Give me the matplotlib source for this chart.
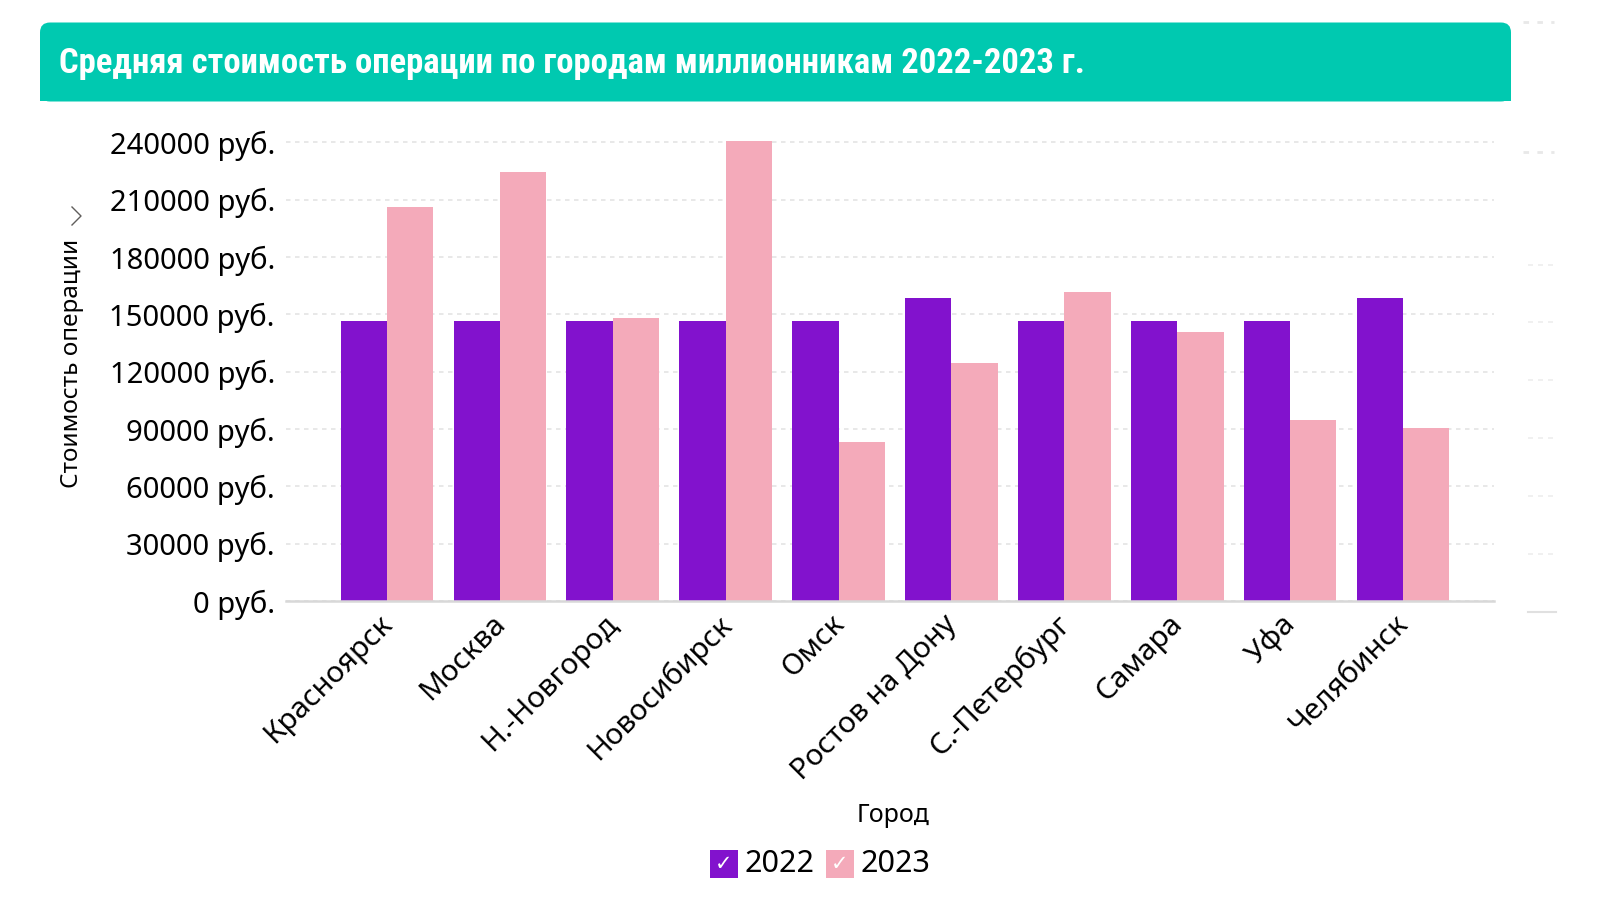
import matplotlib
matplotlib.use("Agg")
import matplotlib.pyplot as plt
from matplotlib import font_manager
from matplotlib.patches import FancyBboxPatch, Rectangle
from matplotlib.lines import Line2D
from matplotlib.transforms import ScaledTranslation
import numpy as np

# data
cities = ['Красноярск', 'Москва', 'Н.-Новгород', 'Новосибирск', 'Омск',
          'Ростов на Дону', 'С.-Петербург', 'Самара', 'Уфа', 'Челябинск']
cost_2022 = [146300, 146300, 146300, 146300, 146300, 158500, 146300, 146300, 146300, 158500]
cost_2023 = [206200, 224500, 148300, 240700, 83000, 124500, 161500, 140800, 94500, 90500]
years = ['2022', '2023']
yticks = list(range(0, 240001, 30000))

colors = ['#8212CD', '#F4AABA']
teal = '#00C9B0'

W, H = 1608, 902


def pick(*names):
    avail = {f.name for f in font_manager.fontManager.ttflist}
    for n in names:
        if n in avail:
            return n
    return 'DejaVu Sans'


ui_font = pick('Noto Sans', 'Open Sans', 'DejaVu Sans')
title_font = pick('Roboto Condensed', 'Lato', 'Roboto', 'DejaVu Sans')
plt.rcParams['font.family'] = [ui_font, 'DejaVu Sans']


def fx(px):
    return px / W


def fy(py):
    return 1 - py / H


fig = plt.figure(figsize=(W / 100, H / 100), dpi=100)
fig.patch.set_facecolor('white')

# title banner (rounded top corners only), drawn in inches
banner = FancyBboxPatch((0.40, (H - 101.5) / 100), 14.71, 0.79,
                        boxstyle='round,pad=0,rounding_size=0.1',
                        transform=fig.dpi_scale_trans, facecolor=teal, edgecolor='none')
fig.add_artist(banner)
fig.add_artist(Rectangle((0.40, (H - 101.5) / 100), 14.71, 0.4,
                         transform=fig.dpi_scale_trans, facecolor=teal, edgecolor='none'))
title = fig.text(fx(58.7), fy(73.5), 'Средняя стоимость операции по городам миллионникам 2022-2023 г.',
                 color='white', fontsize=23, fontweight='bold', family=title_font,
                 ha='left', va='baseline')
fig.canvas.draw()
tw = title.get_window_extent().width
title.set_fontsize(23 * 1029 / tw)

ax = fig.add_axes([fx(286), fy(601), 1208 / W, (601 - 136.6) / H])
x = np.arange(len(cities))
bw = 0.41
ax.bar(x - bw / 2, cost_2022, bw, color=colors[0], zorder=2)
ax.bar(x + bw / 2, cost_2023, bw, color=colors[1], zorder=2)
ax.set_xlim(-0.894, 9.805)
ax.set_ylim(0, 243000)

ax.set_yticks(yticks)
ax.set_yticklabels([f'{v} руб.' for v in yticks], fontsize=21, color='black')
ax.tick_params(axis='y', length=0, pad=8)
ax.yaxis.grid(True, color='#e4e4e4', lw=1.2, dashes=(2.7, 2.7))
ax.set_axisbelow(True)

ax.set_xticks(x)
ax.set_xticklabels(cities, rotation=45, ha='right', va='top', rotation_mode='anchor',
                   fontsize=21.3, color='black')
ax.tick_params(axis='x', length=0, pad=6)
shift = ScaledTranslation(-0.09, 0, fig.dpi_scale_trans)
for lbl in ax.get_xticklabels():
    lbl.set_transform(lbl.get_transform() + shift)

for s in ['top', 'right', 'left']:
    ax.spines[s].set_visible(False)
ax.spines['bottom'].set_color('#d8d8d8')
ax.spines['bottom'].set_linewidth(1.8)

# axis titles
fig.text(fx(72), fy(363.5), 'Стоимость операции', rotation=90, ha='center', va='center',
         fontsize=17.5, color='black')
fig.add_artist(Line2D([fx(72), fx(81), fx(72)], [fy(207), fy(216), fy(225)],
                      transform=fig.transFigure, color='#605E5C', lw=1))
fig.text(fx(893.5), fy(815), 'Город', ha='center', va='center', fontsize=18, color='black')

# legend with check boxes
for px, col, lab in zip([710, 826], colors, years):
    fig.add_artist(Rectangle((fx(px), fy(878)), 28 / W, 28 / H, transform=fig.transFigure,
                             facecolor=col, edgecolor='none'))
    fig.text(fx(px + 14), fy(864), '✓', ha='center', va='center', color='white',
             fontsize=15, family='DejaVu Sans')
    fig.text(fx(px + 35), fy(864), lab, ha='left', va='center', fontsize=22, color='black')

# faint remnants of a neighbouring visual on the right edge
for py in [265, 322, 380, 438, 496, 554]:
    fig.add_artist(Line2D([fx(1528), fx(1556)], [fy(py), fy(py)], transform=fig.transFigure,
                          color='#eeeeee', lw=1.2, dashes=(3, 3)))
fig.add_artist(Line2D([fx(1528), fx(1556)], [fy(612), fy(612)], transform=fig.transFigure,
                      color='#e0e0e0', lw=1.5))
for py in [22, 152]:
    fig.add_artist(Line2D([fx(1523), fx(1554)], [fy(py), fy(py)], transform=fig.transFigure,
                          color='#e8e8e8', lw=2, dashes=(2, 3)))

fig.savefig('out.png', dpi=100, facecolor='white')
